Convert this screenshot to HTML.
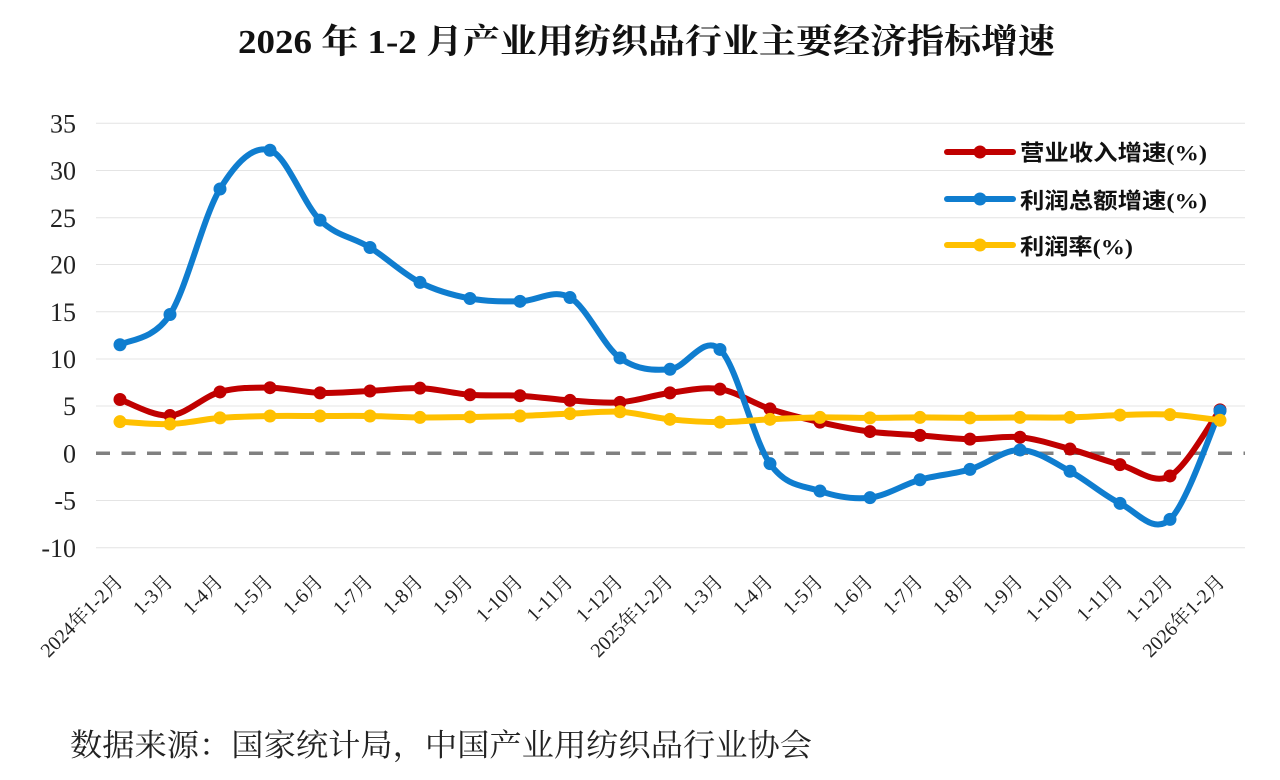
<!DOCTYPE html>
<html><head><meta charset="utf-8">
<style>
html,body{margin:0;padding:0;background:#fff;}
svg{display:block;}
</style></head>
<body>
<svg id="c" width="1280" height="780" viewBox="0 0 1280 780" xmlns="http://www.w3.org/2000/svg">
<rect width="1280" height="780" fill="#fff"/>
<text x="238" y="53" font-family="'Liberation Serif','Noto Serif CJK SC',serif" font-weight="bold" font-size="34" fill="#111" textLength="817" lengthAdjust="spacingAndGlyphs">2026 年 1-2 月产业用纺织品行业主要经济指标增速</text>
<g stroke="#e4e4e4" stroke-width="1">
<line x1="96" y1="123.3" x2="1245" y2="123.3"/>
<line x1="96" y1="170.5" x2="1245" y2="170.5"/>
<line x1="96" y1="217.7" x2="1245" y2="217.7"/>
<line x1="96" y1="264.5" x2="1245" y2="264.5"/>
<line x1="96" y1="311.7" x2="1245" y2="311.7"/>
<line x1="96" y1="359" x2="1245" y2="359"/>
<line x1="96" y1="406" x2="1245" y2="406"/>
<line x1="96" y1="500.5" x2="1245" y2="500.5"/>
<line x1="96" y1="547.7" x2="1245" y2="547.7"/>
</g>
<line x1="96" y1="453.3" x2="1245" y2="453.3" stroke="#808080" stroke-width="3.5" stroke-dasharray="14 11.5"/>
<g font-family="'Liberation Serif',serif" font-size="26" fill="#222" text-anchor="end">
<text x="76" y="132.5">35</text>
<text x="76" y="179.7">30</text>
<text x="76" y="226.9">25</text>
<text x="76" y="273.7">20</text>
<text x="76" y="320.9">15</text>
<text x="76" y="368.2">10</text>
<text x="76" y="415.2">5</text>
<text x="76" y="462.5">0</text>
<text x="76" y="509.7">-5</text>
<text x="76" y="556.9">-10</text>
</g>
<g font-family="'Liberation Serif','Noto Serif CJK SC',serif" font-size="20" fill="#222" text-anchor="end">
<text transform="translate(124,583) rotate(-45)">2024年1-2月</text>
<text transform="translate(174,583) rotate(-45)">1-3月</text>
<text transform="translate(224,583) rotate(-45)">1-4月</text>
<text transform="translate(274,583) rotate(-45)">1-5月</text>
<text transform="translate(324,583) rotate(-45)">1-6月</text>
<text transform="translate(374,583) rotate(-45)">1-7月</text>
<text transform="translate(424,583) rotate(-45)">1-8月</text>
<text transform="translate(474,583) rotate(-45)">1-9月</text>
<text transform="translate(524,583) rotate(-45)">1-10月</text>
<text transform="translate(574,583) rotate(-45)">1-11月</text>
<text transform="translate(624,583) rotate(-45)">1-12月</text>
<text transform="translate(674,583) rotate(-45)">2025年1-2月</text>
<text transform="translate(724,583) rotate(-45)">1-3月</text>
<text transform="translate(774,583) rotate(-45)">1-4月</text>
<text transform="translate(824,583) rotate(-45)">1-5月</text>
<text transform="translate(874,583) rotate(-45)">1-6月</text>
<text transform="translate(924,583) rotate(-45)">1-7月</text>
<text transform="translate(974,583) rotate(-45)">1-8月</text>
<text transform="translate(1024,583) rotate(-45)">1-9月</text>
<text transform="translate(1074,583) rotate(-45)">1-10月</text>
<text transform="translate(1124,583) rotate(-45)">1-11月</text>
<text transform="translate(1174,583) rotate(-45)">1-12月</text>
<text transform="translate(1226,583) rotate(-45)">2026年1-2月</text>
</g>
<g id="series"></g>
<g>
<line x1="947" y1="152" x2="1013" y2="152" stroke="#C00000" stroke-width="6" stroke-linecap="round"/>
<circle cx="980" cy="152" r="6.5" fill="#C00000"/>
<line x1="947" y1="199" x2="1013" y2="199" stroke="#0F7DCF" stroke-width="6" stroke-linecap="round"/>
<circle cx="980" cy="199" r="6.5" fill="#0F7DCF"/>
<line x1="947" y1="245" x2="1013" y2="245" stroke="#FFC000" stroke-width="6" stroke-linecap="round"/>
<circle cx="980" cy="245" r="6.5" fill="#FFC000"/>
</g>
<g font-family="'Liberation Serif','Noto Sans CJK SC',sans-serif" font-weight="bold" font-size="22" fill="#111">
<text x="1020" y="160.5" textLength="187" lengthAdjust="spacingAndGlyphs">营业收入增速(%)</text>
<text x="1020" y="208.5" textLength="187" lengthAdjust="spacingAndGlyphs">利润总额增速(%)</text>
<text x="1020" y="254.5" textLength="113" lengthAdjust="spacingAndGlyphs">利润率(%)</text>
</g>
<text x="70" y="756" font-family="'Liberation Serif','Noto Serif CJK SC',serif" font-size="31" fill="#222" textLength="742" lengthAdjust="spacingAndGlyphs">数据来源：国家统计局，中国产业用纺织品行业协会</text>
</svg>
<script>
(function(){
var red=[5.7,4.0,6.5,6.95,6.4,6.6,6.9,6.2,6.1,5.6,5.4,6.4,6.8,4.7,3.3,2.3,1.9,1.5,1.7,0.45,-1.2,-2.4,4.6];
var blue=[11.5,14.7,28.0,32.1,24.7,21.8,18.1,16.4,16.1,16.5,10.1,8.9,11.0,-1.1,-4.0,-4.7,-2.8,-1.7,0.35,-1.9,-5.3,-7.0,4.5];
var yel=[3.35,3.1,3.75,3.95,3.95,3.95,3.8,3.85,3.95,4.2,4.4,3.6,3.3,3.6,3.8,3.75,3.8,3.75,3.8,3.8,4.05,4.1,3.5];
var NS="http://www.w3.org/2000/svg";
var g=document.getElementById("series");
function pts(v){return v.map(function(d,i){return [120+50*i,453.3-9.44*d];});}
function path(p){
  var s="M"+p[0][0]+","+p[0][1].toFixed(2);
  for(var i=0;i<p.length-1;i++){
    var p0=p[i>0?i-1:i],p1=p[i],p2=p[i+1],p3=p[i+2<p.length?i+2:i+1];
    var c1x=p1[0]+(p2[0]-p0[0])/6,c1y=p1[1]+(p2[1]-p0[1])/6;
    var c2x=p2[0]-(p3[0]-p1[0])/6,c2y=p2[1]-(p3[1]-p1[1])/6;
    s+=" C"+c1x.toFixed(2)+","+c1y.toFixed(2)+" "+c2x.toFixed(2)+","+c2y.toFixed(2)+" "+p2[0]+","+p2[1].toFixed(2);
  }
  return s;
}
function draw(v,col){
  var p=pts(v);
  var e=document.createElementNS(NS,"path");
  e.setAttribute("d",path(p));e.setAttribute("fill","none");e.setAttribute("stroke",col);
  e.setAttribute("stroke-width","6");e.setAttribute("stroke-linejoin","round");e.setAttribute("stroke-linecap","round");
  g.appendChild(e);
  p.forEach(function(q){var c=document.createElementNS(NS,"circle");c.setAttribute("cx",q[0]);c.setAttribute("cy",q[1]);c.setAttribute("r","6.5");c.setAttribute("fill",col);g.appendChild(c);});
}
draw(red,"#C00000");
draw(blue,"#0F7DCF");
draw(yel,"#FFC000");
})();
</script>
</body></html>
